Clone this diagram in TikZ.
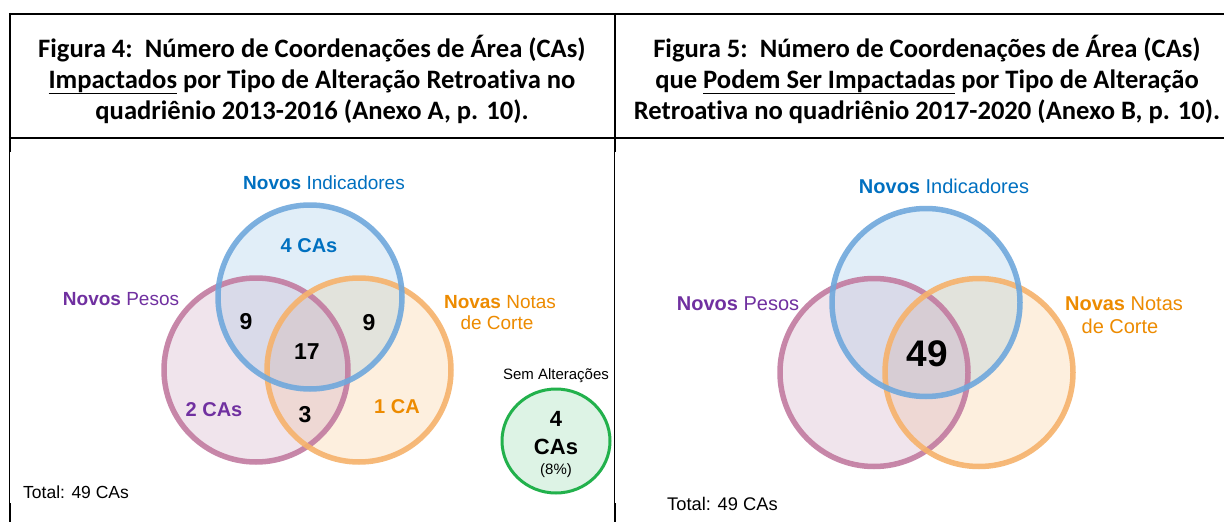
\documentclass[tikz,border=0pt]{standalone}
\usepackage{fontspec}
\setmainfont{Liberation Sans}
\newfontfamily\hdrfont[Ligatures=NoCommon,RawFeature=-liga]{Carlito}
\definecolor{cB}{HTML}{E1EEF8}
\definecolor{cP}{HTML}{F0E4EC}
\definecolor{cO}{HTML}{FDEFDE}
\definecolor{cBP}{HTML}{D9DAE9}
\definecolor{cBO}{HTML}{E2E3DC}
\definecolor{cPO}{HTML}{EED8D4}
\definecolor{cC}{HTML}{D7CDD4}
\definecolor{sB}{HTML}{6FA8DC}
\definecolor{sP}{HTML}{C27BA0}
\definecolor{sO}{HTML}{F6B26B}
\definecolor{tB}{HTML}{0070C0}
\definecolor{tP}{HTML}{7030A0}
\definecolor{tO}{HTML}{ED8B00}
\definecolor{gS}{HTML}{22B14C}
\definecolor{gF}{HTML}{DDF3E5}
\newcommand{\myvenn}[7]{%
  \fill[cB] (#1,#2) circle[radius=#7pt];
  \fill[cP] (#3,#4) circle[radius=#7pt];
  \fill[cO] (#5,#6) circle[radius=#7pt];
  \begin{scope}
    \clip (#1,#2) circle[radius=#7pt];
    \fill[cBP] (#3,#4) circle[radius=#7pt];
    \fill[cBO] (#5,#6) circle[radius=#7pt];
  \end{scope}
  \begin{scope}
    \clip (#3,#4) circle[radius=#7pt];
    \fill[cPO] (#5,#6) circle[radius=#7pt];
    \clip (#1,#2) circle[radius=#7pt];
    \fill[cC] (#5,#6) circle[radius=#7pt];
  \end{scope}
  \draw[vring, sP] (#3,#4) circle[radius=#7pt];
  \draw[vring, sO] (#5,#6) circle[radius=#7pt];
  \draw[vring, sB] (#1,#2) circle[radius=#7pt];
}
\begin{document}
\begin{tikzpicture}[x=1pt,y=-1pt,
  vring/.style={line width=5.5pt, draw opacity=0.9},
  hdr/.style={inner sep=0pt, anchor=base, font=\hdrfont\bfseries\fontsize{26.6}{32}\selectfont},
  lab/.style={inner sep=0pt, anchor=base, font=\fontsize{19}{22}\selectfont},
  labR/.style={inner sep=0pt, anchor=base, font=\fontsize{20}{23}\selectfont},
  ca/.style={inner sep=0pt, anchor=base, font=\bfseries\fontsize{20}{23}\selectfont},
  num/.style={inner sep=0pt, anchor=base, font=\bfseries\fontsize{23}{26}\selectfont},
  small/.style={inner sep=0pt, anchor=base, font=\fontsize{15}{17}\selectfont},
  tot/.style={inner sep=0pt, anchor=base west, font=\fontsize{17.5}{20}\selectfont},
  thickrule/.style={line width=2.2pt, black},
  thinrule/.style={line width=1pt, black}
]
\useasboundingbox (0,0) rectangle (1224,522);
\fill[white] (0,0) rectangle (1224,522);

% table rules
\draw[thickrule] (8.9,14) -- (1224,14);
\draw[thickrule] (8.9,138.3) -- (1224,138.3);
\draw[thickrule] (10,12.9) -- (10,152);
\draw[thinrule] (9.4,152) -- (9.4,503);
\draw[thickrule] (10,503) -- (10,522);
\draw[thickrule] (615,12.9) -- (615,152);
\draw[thinrule] (614.6,152) -- (614.6,503);
\draw[thickrule] (615,503) -- (615,522);

% headers
\node[hdr] (h4a) at (312,57) {Figura 4:\ \ Número de Coordenações de Área (CAs)};
\node[hdr] (h4b) at (312,88) {\underline{Impactados} por Tipo de Alteração Retroativa no};
\node[hdr] (h4c) at (312,119) {quadriênio 2013-2016 (Anexo A, p. 10).};
\node[hdr] (h5a) at (927,57) {Figura 5:\ \ Número de Coordenações de Área (CAs)};
\node[hdr] (h5b) at (927,88) {que \underline{Podem Ser Impactadas} por Tipo de Alteração};
\node[hdr] (h5c) at (927,119) {Retroativa no quadriênio 2017-2020 (Anexo B, p. 10).};

% left venn
\myvenn{310}{297}{256}{370}{359}{370}{92}
\node[lab, text=tB] (lNI) at (324,189) {\bfseries Novos \mdseries Indicadores};
\node[lab, text=tP] (lNP) at (121,305) {\bfseries Novos \mdseries Pesos};
\node[lab, text=tO] (lNN) at (500,308) {\bfseries Novas \mdseries Notas};
\node[lab, text=tO] (lDC) at (497,329) {de Corte};
\node[ca, text=tB] (l4) at (309,252) {4 CAs};
\node[num] (lBP) at (246,329) {9};
\node[num] (lBO) at (369,330) {9};
\node[num] (lC) at (307,359) {17};
\node[ca, text=tP] (l2) at (214,416) {2 CAs};
\node[num] (lPO) at (305,422) {3};
\node[ca, text=tO] (l1) at (397,413) {1 CA};
\node[small] (lSA) at (556,379.5) {Sem Alterações};
\draw[line width=3pt, gS, fill=gF] (556,441) circle[x radius=54pt, y radius=52pt];
\node[inner sep=0pt, anchor=base, font=\bfseries\fontsize{22}{25}\selectfont] (lg4) at (556,426) {4};
\node[inner sep=0pt, anchor=base, font=\bfseries\fontsize{22}{25}\selectfont] (lgCA) at (556,454) {CAs};
\node[small] (lg8) at (556,474) {(8\%)};
\node[tot] (lT) at (23,498) {Total: 49 CAs};

% right venn
\myvenn{926}{302.5}{874}{372.5}{979}{372.5}{94}
\node[labR, text=tB] (rNI) at (944,193) {\bfseries Novos \mdseries Indicadores};
\node[labR, text=tP] (rNP) at (738,310) {\bfseries Novos \mdseries Pesos};
\node[labR, text=tO] (rNN) at (1124,310) {\bfseries Novas \mdseries Notas};
\node[labR, text=tO] (rDC) at (1120,333) {de Corte};
\node[inner sep=0pt, anchor=base, font=\bfseries\fontsize{37}{40}\selectfont] (rC) at (927,366) {49};
\node[tot, font=\fontsize{18.3}{21}\selectfont] (rT) at (667,510) {Total: 49 CAs};
\end{tikzpicture}
\end{document}
